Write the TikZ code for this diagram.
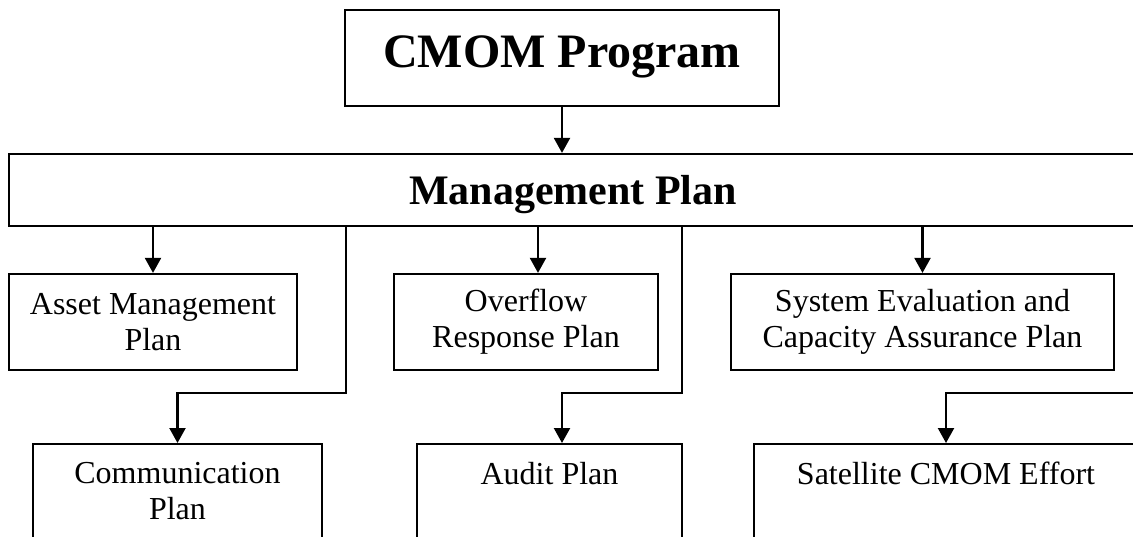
\documentclass[tikz,border=0pt]{standalone}
\usepackage{fontspec}
\setmainfont{Liberation Serif}
\usetikzlibrary{arrows.meta}

\tikzset{
  box/.style={draw, line width=2.2pt, rectangle, inner sep=0pt, align=center,
    font=\fontsize{32}{36}\selectfont},
  midbox/.style={box, minimum height=96pt},
  lowbox/.style={box, anchor=north, inner ysep=18pt, text depth=110pt},
  link/.style={line width=2.2pt, -{Triangle[width=16pt,length=15pt]}}
}

\begin{document}
\begin{tikzpicture}[x=1pt,y=-1pt]
  \useasboundingbox (0,0) rectangle (1133,536);
  \clip (0,0) rectangle (1133,536);

  % top level
  \node[box, minimum width=434pt, minimum height=96pt, text height=32pt, text depth=14pt,
        font=\fontsize{48}{52}\selectfont\bfseries] (cmom) at (562,58) {CMOM Program};
  \node[box, minimum width=1128pt, minimum height=72pt, text height=28pt, text depth=0pt,
        font=\fontsize{42}{46}\selectfont\bfseries] (mgmt) at (573,190) {Management Plan};

  % second row
  \node[midbox, minimum width=288pt] (asset) at (153,322) {Asset Management\\Plan};
  \node[midbox, minimum width=264pt] (ovf) at (526,322) {Overflow\\Response Plan};
  \node[midbox, minimum width=383pt] (seval) at (922.5,322) {System Evaluation and\\Capacity Assurance Plan};

  % third row
  \node[lowbox, minimum width=289pt] (comm) at (177.5,443) {Communication\\Plan};
  \node[lowbox, minimum width=265pt] (audit) at (549.5,443) {Audit Plan};
  \node[lowbox, minimum width=384pt] (sat) at (946,443) {Satellite CMOM Effort};

  % bend points of the elbow connectors
  \coordinate (cbend) at (346,393);
  \coordinate (abend) at (682,393);
  \coordinate (sfeed) at (1145,393);

  % connectors
  \draw[link] (cmom.south) -- (cmom.south |- mgmt.north);
  \draw[link] (mgmt.south -| asset.north) -- (asset.north);
  \draw[link] (mgmt.south -| 538,0) -- ([xshift=12pt]ovf.north);
  \draw[link] (mgmt.south -| seval.north) -- (seval.north);
  \draw[link] (mgmt.south -| cbend) -- (cbend) -| (comm.north);
  \draw[link] (mgmt.south -| abend) -- (abend) -| ([xshift=12.5pt]audit.north);
  \draw[link] (sfeed) -| (sat.north);
\end{tikzpicture}
\end{document}
